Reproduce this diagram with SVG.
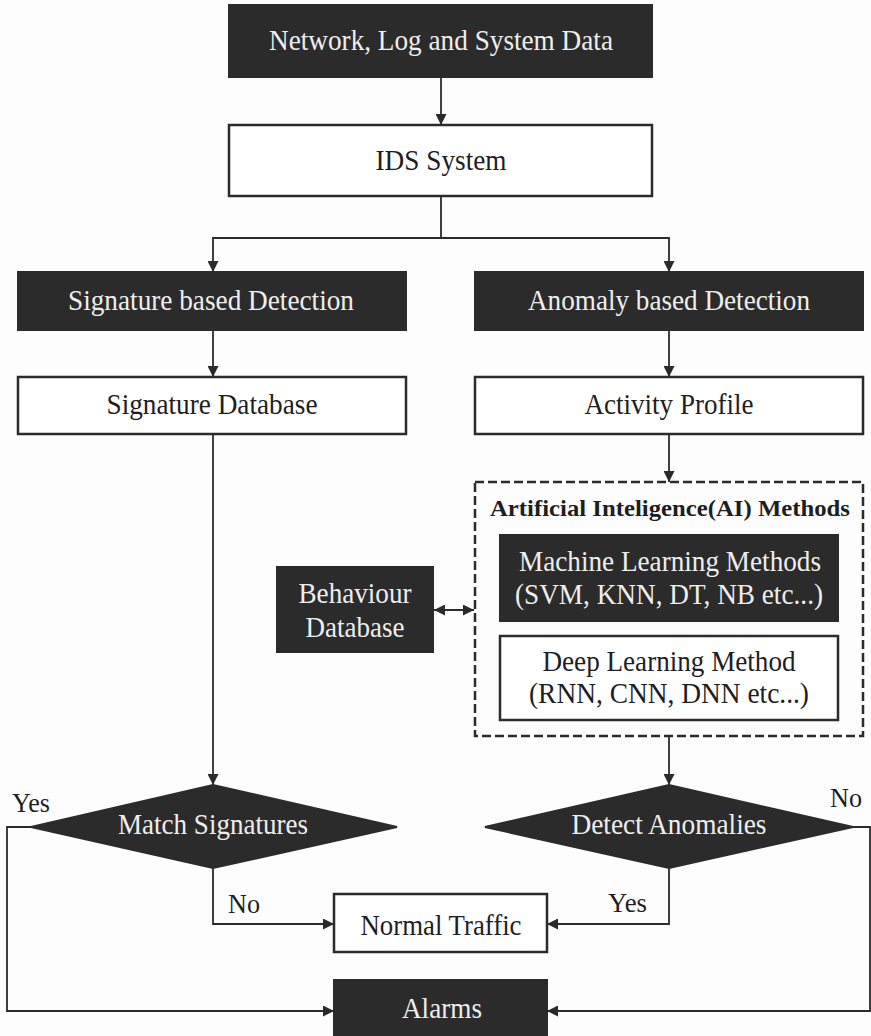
<svg xmlns="http://www.w3.org/2000/svg" width="871" height="1036" viewBox="0 0 871 1036">
<defs>
<marker id="ah" viewBox="0 0 10 10" refX="10" refY="5" markerWidth="11" markerHeight="11" markerUnits="userSpaceOnUse" orient="auto-start-reverse">
<path d="M0,0 L10,5 L0,10 z" fill="#2a2a2a"/>
</marker>
<style>
.dark{fill:#2b2b2b;stroke:#2b2b2b;stroke-width:2}
.light{fill:#ffffff;stroke:#2b2b2b;stroke-width:2.5}
.dash{fill:none;stroke:#2b2b2b;stroke-width:2.5;stroke-dasharray:9,4}
.t{font-family:"Liberation Serif","Times New Roman",serif;font-size:30px;text-anchor:middle}
.w{fill:#eeeeee}
.k{fill:#1e1e1e}
.b{font-weight:bold;font-size:24px}
.lbl{font-family:"Liberation Serif","Times New Roman",serif;font-size:28px;fill:#1e1e1e}
.c{fill:none;stroke:#2b2b2b;stroke-width:1.8}
</style>
</defs>
<rect width="871" height="1036" fill="#fdfdfd"/>
<g id="connectors">
<line class="c" x1="441" y1="77" x2="441" y2="125" marker-end="url(#ah)"/>
<polyline class="c" points="441,196 441,238 213,238 213,272" marker-end="url(#ah)"/>
<polyline class="c" points="441,238 669,238 669,272" marker-end="url(#ah)"/>
<line class="c" x1="213" y1="330" x2="213" y2="377" marker-end="url(#ah)"/>
<line class="c" x1="669" y1="330" x2="669" y2="377" marker-end="url(#ah)"/>
<line class="c" x1="669" y1="434" x2="669" y2="482" marker-end="url(#ah)"/>
<line class="c" x1="213" y1="434" x2="213" y2="785" marker-end="url(#ah)"/>
<line class="c" x1="669" y1="736" x2="669" y2="785" marker-end="url(#ah)"/>
<line class="c" x1="434" y1="610" x2="474" y2="610" marker-start="url(#ah)" marker-end="url(#ah)"/>
<polyline class="c" points="213,868 213,924 334,924" marker-end="url(#ah)"/>
<polyline class="c" points="669,868 669,924 547,924" marker-end="url(#ah)"/>
<polyline class="c" points="31,827 7,827 7,1011 334,1011" marker-end="url(#ah)"/>
<polyline class="c" points="853,827 870,827 870,1011 547,1011" marker-end="url(#ah)"/>
</g>
<g id="data">
<rect class="dark" x="229" y="5" width="423" height="72"/>
<text class="t w" x="441" y="50" textLength="344" lengthAdjust="spacingAndGlyphs">Network, Log and System Data</text>
</g>
<g id="ids">
<rect class="light" x="229" y="125" width="423" height="71"/>
<text class="t k" x="441" y="170" textLength="131" lengthAdjust="spacingAndGlyphs">IDS System</text>
</g>
<g id="sigdet">
<rect class="dark" x="18" y="272" width="388" height="58"/>
<text class="t w" x="211" y="310" textLength="286" lengthAdjust="spacingAndGlyphs">Signature based Detection</text>
</g>
<g id="anodet">
<rect class="dark" x="475" y="272" width="388" height="58"/>
<text class="t w" x="669" y="310" textLength="282" lengthAdjust="spacingAndGlyphs">Anomaly based Detection</text>
</g>
<g id="sigdb">
<rect class="light" x="18" y="377" width="388" height="57"/>
<text class="t k" x="212" y="414" textLength="211" lengthAdjust="spacingAndGlyphs">Signature Database</text>
</g>
<g id="activity">
<rect class="light" x="475" y="377" width="388" height="57"/>
<text class="t k" x="669" y="414" textLength="169" lengthAdjust="spacingAndGlyphs">Activity Profile</text>
</g>
<g id="ai">
<rect class="dash" x="475" y="482" width="388" height="254"/>
<text class="t k b" x="670" y="516" textLength="360" lengthAdjust="spacingAndGlyphs">Artificial Inteligence(AI) Methods</text>
</g>
<g id="ml">
<rect class="dark" x="500" y="535" width="338" height="86"/>
<text class="t w" x="670" y="571" textLength="302" lengthAdjust="spacingAndGlyphs">Machine Learning Methods</text>
<text class="t w" x="669" y="604" textLength="308" lengthAdjust="spacingAndGlyphs">(SVM, KNN, DT, NB etc...)</text>
</g>
<g id="dl">
<rect class="light" x="500" y="636" width="338" height="84"/>
<text class="t k" x="669" y="671" textLength="253" lengthAdjust="spacingAndGlyphs">Deep Learning Method</text>
<text class="t k" x="669" y="703" textLength="280" lengthAdjust="spacingAndGlyphs">(RNN, CNN, DNN etc...)</text>
</g>
<g id="behaviour">
<rect class="dark" x="277" y="567" width="156" height="85"/>
<text class="t w" x="355" y="603" textLength="113" lengthAdjust="spacingAndGlyphs">Behaviour</text>
<text class="t w" x="355" y="637" textLength="99" lengthAdjust="spacingAndGlyphs">Database</text>
</g>
<g id="match">
<polygon class="dark" points="31,827 213,785 397,827 213,868"/>
<text class="t w" x="213" y="834" textLength="190" lengthAdjust="spacingAndGlyphs">Match Signatures</text>
</g>
<g id="detect">
<polygon class="dark" points="485,827 669,785 853,827 669,868"/>
<text class="t w" x="669" y="834" textLength="195" lengthAdjust="spacingAndGlyphs">Detect Anomalies</text>
</g>
<g id="normal">
<rect class="light" x="334" y="894" width="213" height="58"/>
<text class="t k" x="441" y="935" textLength="161" lengthAdjust="spacingAndGlyphs">Normal Traffic</text>
</g>
<g id="alarms">
<rect class="dark" x="334" y="980" width="213" height="58"/>
<text class="t w" x="442" y="1018" textLength="80" lengthAdjust="spacingAndGlyphs">Alarms</text>
</g>
<g id="labels">
<text class="lbl" x="12" y="812" textLength="38" lengthAdjust="spacingAndGlyphs">Yes</text>
<text class="lbl" x="830" y="807" textLength="32" lengthAdjust="spacingAndGlyphs">No</text>
<text class="lbl" x="228" y="913" textLength="32" lengthAdjust="spacingAndGlyphs">No</text>
<text class="lbl" x="608" y="912" textLength="39" lengthAdjust="spacingAndGlyphs">Yes</text>
</g>
</svg>
